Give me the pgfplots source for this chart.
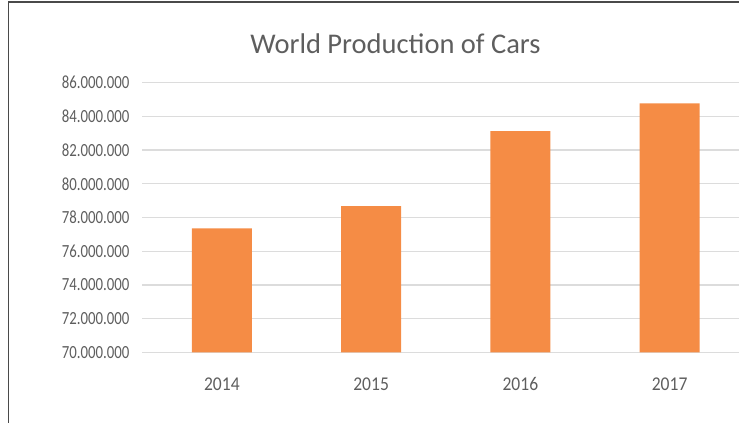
\documentclass[border=0pt]{standalone}
\usepackage{pgfplots}
\pgfplotsset{compat=1.18}
\usepackage{fontspec}
\setmainfont{Carlito}
\newfontfamily\ylabfont{Carlito}[FakeStretch=0.8]
\newfontfamily\xlabfont{Carlito}[FakeStretch=0.9]
\definecolor{barorange}{HTML}{F58C45}
\definecolor{txtgray}{HTML}{5E5E5E}
\definecolor{gridgray}{HTML}{DCDCDC}
\definecolor{framegray}{HTML}{4A4A4A}
\begin{document}
\begin{tikzpicture}
\path[use as bounding box] (0pt,0pt) rectangle (739pt,423pt);
\draw[framegray, line width=1.5pt] (8.5pt,0pt) -- (8.5pt,420.8pt) -- (739pt,420.8pt);
\node[anchor=base, text=txtgray, font=\fontsize{28.5}{30}\selectfont] at (395.5pt,369.5pt) {World Production of Cars};
\begin{axis}[
  at={(142pt,70.7pt)}, anchor=south west,
  scale only axis, width=597pt, height=269.6pt,
  xmin=-0.535, xmax=3.465,
  ymin=70, ymax=86,
  ytick={70,72,74,76,78,80,82,84,86},
  yticklabels={70.000.000,72.000.000,74.000.000,76.000.000,78.000.000,80.000.000,82.000.000,84.000.000,86.000.000},
  xtick={0,1,2,3},
  xticklabels={2014,2015,2016,2017},
  major tick length=0pt,
  axis line style={draw=none},
  ymajorgrids, grid style={gridgray, line width=1.3pt},
  tick label style={text=txtgray},
  yticklabel style={anchor=east, xshift=-9pt, font=\ylabfont\fontsize{18.5}{20}\selectfont},
  xticklabel style={anchor=base, yshift=-38pt, font=\xlabfont\fontsize{19.5}{21}\selectfont},
  clip=false,
]
\addplot[ybar, bar width=60pt, fill=barorange, draw=none] coordinates {
  (0,77.36) (1,78.68) (2,83.13) (3,84.78)
};
\end{axis}
\end{tikzpicture}
\end{document}
